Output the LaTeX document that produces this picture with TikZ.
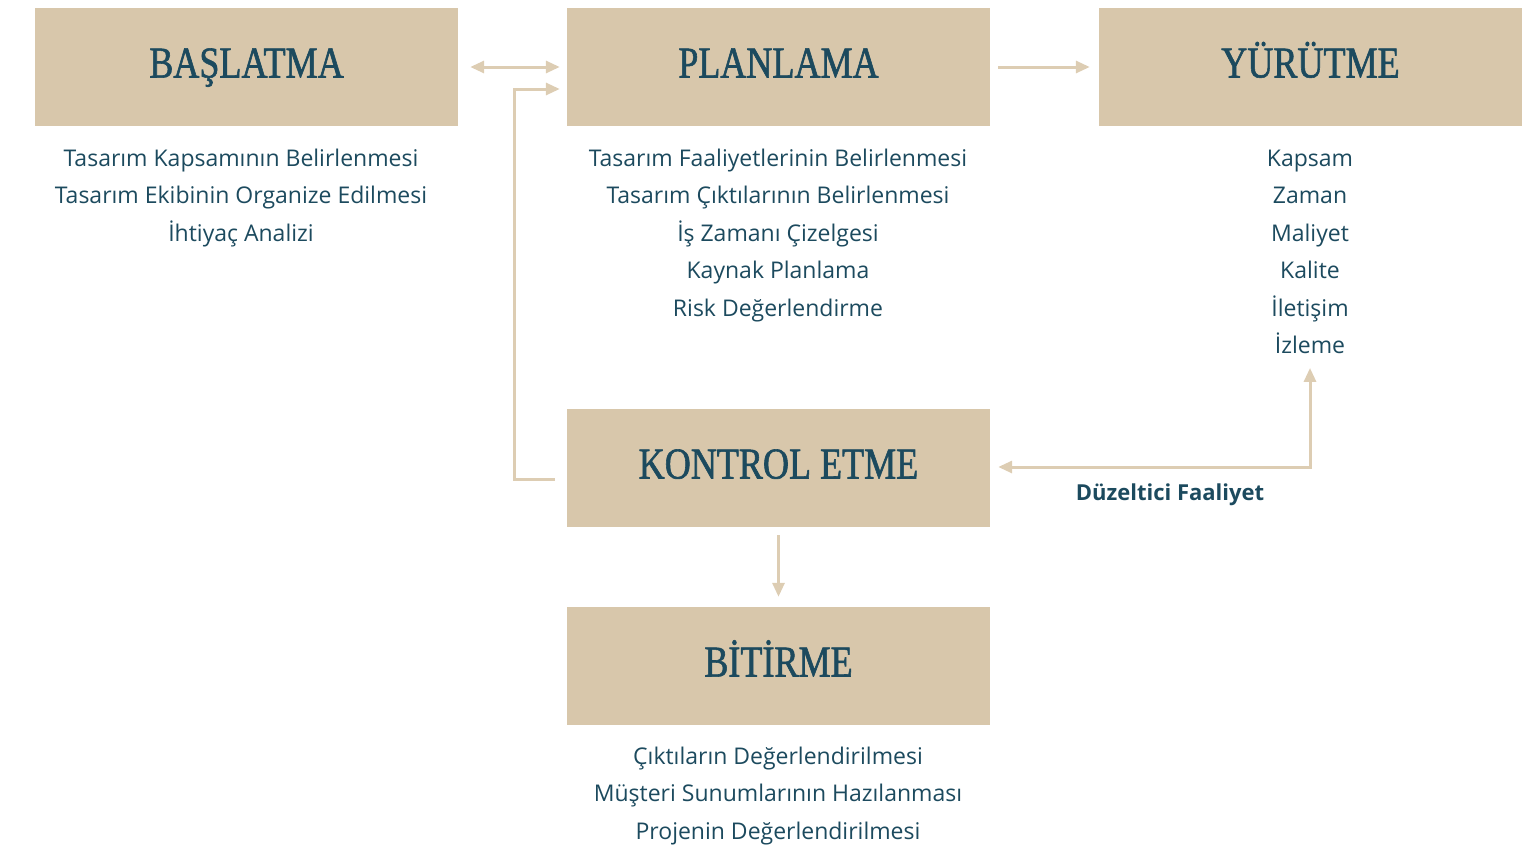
\documentclass[tikz,border=0pt]{standalone}
\usepackage{fontspec}
\setmainfont{Open Sans}
\newfontfamily\baslikfont[FakeStretch=0.82, FakeBold=1.3]{Liberation Serif}
\usetikzlibrary{arrows.meta}

\definecolor{kum}{HTML}{D8C7AB}
\definecolor{okrenk}{HTML}{DDCDB3}
\definecolor{lacivert}{HTML}{1C4A5E}

\tikzset{
	asama/.style = {fill = kum, minimum width = 423pt, minimum height = 118pt, inner sep = 0pt,
		text height = 29pt, text depth = 8pt, text = lacivert, font = \baslikfont\fontsize{44}{44}\selectfont},
	liste/.style = {anchor = base, align = center, inner sep = 0pt, text = lacivert, font = \fontsize{23}{37.5}\selectfont},
	okcizgi/.style = {draw = okrenk, line width = 3pt, -{Triangle[length = 14pt, width = 12pt]}}
}

\begin{document}
\begin{tikzpicture}[x = 1pt, y = -1pt]
	\useasboundingbox (0,0) rectangle (1540,846);

	% asamalar
	\node[asama] (baslatma) at (246.5,67) {BAŞLATMA};
	\node[asama] (planlama) at (778.5,67) {PLANLAMA};
	\node[asama] (yurutme) at (1310.5,67) {YÜRÜTME};
	\node[asama] (kontrol) at (778.5,468) {KONTROL ETME};
	\node[asama] (bitirme) at (778.5,666) {BİTİRME};

	% alt basliklar (base = son satir)
	\node[liste] (baslatmaliste) at (241,241) {Tasarım Kapsamının Belirlenmesi\\Tasarım Ekibinin Organize Edilmesi\\İhtiyaç Analizi};
	\node[liste] (planlamaliste) at (778,316) {Tasarım Faaliyetlerinin Belirlenmesi\\Tasarım Çıktılarının Belirlenmesi\\İş Zamanı Çizelgesi\\Kaynak Planlama\\Risk Değerlendirme};
	\node[liste] (yurutmeliste) at (1310,353.5) {Kapsam\\Zaman\\Maliyet\\Kalite\\İletişim\\İzleme};
	\node[liste] (bitirmeliste) at (778,839) {Çıktıların Değerlendirilmesi\\Müşteri Sunumlarının Hazılanması\\Projenin Değerlendirilmesi};
	\node[liste, font = \bfseries\fontsize{22}{22}\selectfont] (duzeltici) at (1170,500) {Düzeltici Faaliyet};

	% oklar
	\draw[okcizgi, {Triangle[length = 14pt, width = 12pt]}-{Triangle[length = 14pt, width = 12pt]}]
		([xshift = 12pt]baslatma.east) -- ([xshift = -7pt]planlama.west);
	\draw[okcizgi] ([xshift = 8pt]planlama.east) -- ([xshift = -9pt]yurutme.west);
	\draw[okcizgi] ([xshift = -12pt, yshift = -11pt]kontrol.west) -- ++(-40,0) |- ([xshift = -7pt, yshift = -22pt]planlama.west);
	\draw[okcizgi, {Triangle[length = 14pt, width = 12pt]}-{Triangle[length = 14pt, width = 12pt]}]
		([xshift = 8pt, yshift = 1pt]kontrol.east) -| ([yshift = -14pt]yurutmeliste.south);
	\draw[okcizgi] ([yshift = -8pt]kontrol.south) -- ([yshift = 10pt]bitirme.north);
\end{tikzpicture}
\end{document}
